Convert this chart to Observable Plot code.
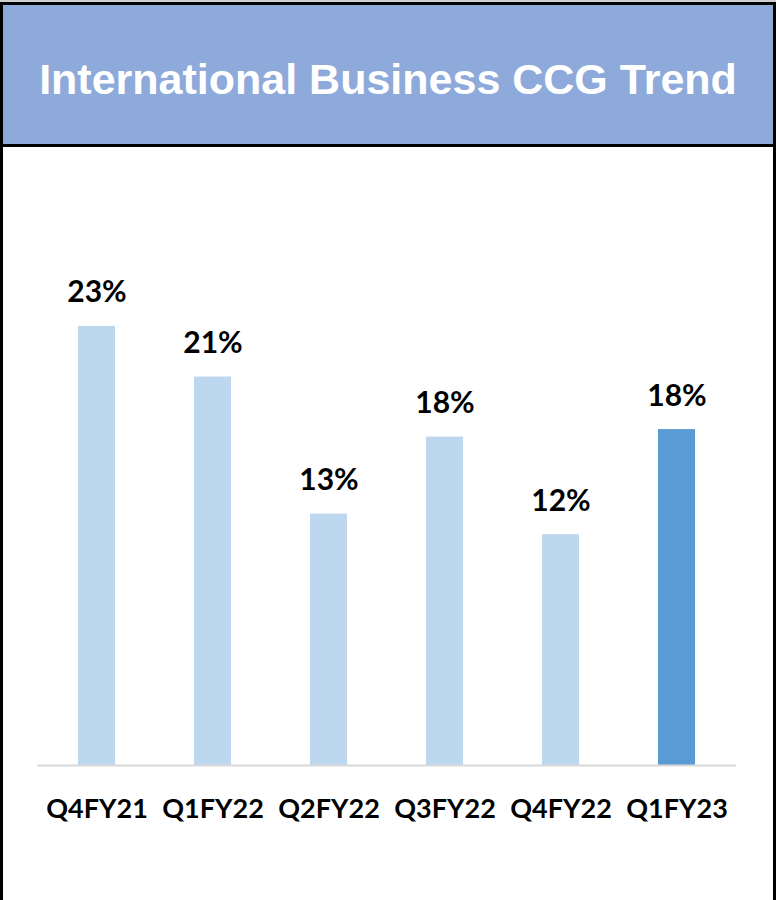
<!DOCTYPE html>
<html>
<head>
<meta charset="utf-8">
<script src="https://cdn.jsdelivr.net/npm/d3@7"></script>
<script src="https://cdn.jsdelivr.net/npm/@observablehq/plot@0.6"></script>
<style>
  html, body { margin: 0; padding: 0; background: #fff; }
  #topline { height: 2px; background: #cfcfcf; width: 776px; }
  #frame { width: 776px; height: 898px; box-sizing: border-box; border: 3px solid #000; border-bottom: none; }
  #header { background: #8EAADB; border-bottom: 3px solid #000; display: flex; align-items: center; justify-content: center; padding-top: 10px; box-sizing: border-box; height: 142px; }
  #title { font-family: "Liberation Sans", Arial, sans-serif; font-weight: bold; font-size: 43px; line-height: 1; color: #fff; white-space: nowrap; }
  #chart svg { display: block; }
</style>
</head>
<body>
<div id="topline"></div>
<div id="frame">
  <div id="header"><div id="title">International Business CCG Trend</div></div>
  <div id="chart"></div>
</div>
<script>
const quarters = ["Q4FY21", "Q1FY22", "Q2FY22", "Q3FY22", "Q4FY22", "Q1FY23"];
const ccgValues = [23.4, 20.7, 13.4, 17.5, 12.3, 17.9];
const barColors = ["#BDD7EE", "#BDD7EE", "#BDD7EE", "#BDD7EE", "#BDD7EE", "#5B9BD5"];

const data = quarters.map((q, i) => ({q, v: ccgValues[i], c: barColors[i], label: Math.round(ccgValues[i]) + "%"}));

const font = "Lato, Carlito, Calibri, sans-serif";
const chart = Plot.plot({
  width: 770,
  height: 753,
  marginLeft: 34,
  marginRight: 37,
  marginTop: 55,
  marginBottom: 135,
  style: {fontFamily: font, background: "transparent"},
  x: {domain: quarters, paddingInner: 0.68, paddingOuter: 0.34, label: null},
  y: {domain: [0, 30], axis: null},
  marks: [
    Plot.barY(data, {x: "q", y: "v", fill: "c"}),
    Plot.ruleY([0], {stroke: "#D9D9D9", strokeWidth: 2}),
    Plot.text(data, {x: "q", y: "v", text: "label", dy: -24, lineAnchor: "bottom", fontSize: 30, fontWeight: "bold", fill: "#000", fontFamily: font}),
    Plot.axisX({tickSize: 0, tickPadding: 33, fontSize: 27, fontWeight: "bold", fill: "#000", fontFamily: font, label: null})
  ]
});
document.getElementById("chart").appendChild(chart);
</script>
</body>
</html>
